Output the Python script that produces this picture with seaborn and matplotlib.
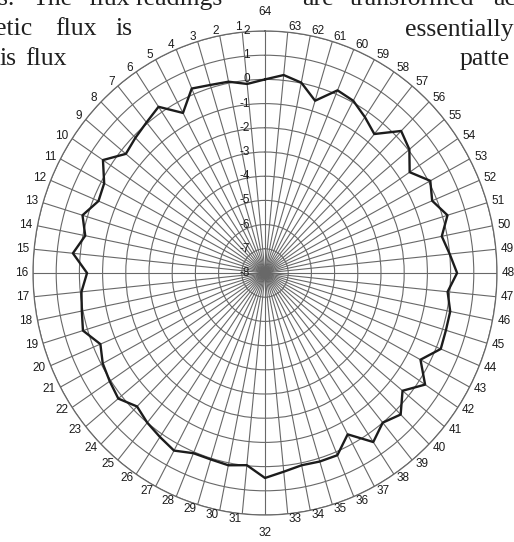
import numpy as np
import pandas as pd
import seaborn as sns
import matplotlib.pyplot as plt
from matplotlib.transforms import ScaledTranslation

# sensor index around the circle (0 is drawn as "64")
sensor = np.arange(64)
flux = [0.0, -0.15, 0.06, 0.12, 0.25, -0.5, 0.26, 0.05, -0.1, -0.24,
        0.4, -0.14, -0.23, 0.22, -0.1, 0.32, -0.33, -0.05, 0.05, 0.2,
        -0.32, -0.07, 0.05, 0.18, -0.2, 0.0, 0.15, 0.32, 0.06, 0.05,
        0.1, -0.02, 0.47, 0.25, 0.1, 0.14, 0.15, -0.44, 0.4, 0.0,
        0.27, -0.33, 0.3, -0.4, 0.2, 0.15, 0.14, -0.09, 0.28, 0.0,
        -0.23, 0.22, -0.2, 0.08, -0.5, 0.05, 0.3, -0.57, -0.25, 0.07,
        0.17, -0.56, 0.02, 0.22]
sensor_labels = ["64"] + [str(i) for i in range(1, 64)]
rings = [-8, -7, -6, -5, -4, -3, -2, -1, 0, 1, 2]
ring_labels = ["-8", "-7", "-6", "-5", "-4", "-3", "-2", "-1", "0", "1", "2"]

GRID = "#686868"
INK = "#1c1c1c"

sns.set_style("white")
plt.rcParams["font.family"] = ["Liberation Sans", "DejaVu Sans"]

theta = np.deg2rad(sensor * 360 / 64)
df = pd.DataFrame({"theta": np.append(theta, 2 * np.pi),
                   "flux": np.append(flux, flux[0])})

fig = plt.figure(figsize=(5.14, 5.42), dpi=100)
ax = fig.add_axes([0.0642, 0.0498, 0.9027, 0.893], projection="polar")
ax.set_theta_zero_location("N")
ax.set_theta_direction(1)

sns.lineplot(data=df, x="theta", y="flux", ax=ax, sort=False, estimator=None,
             color=INK, linewidth=1.7, zorder=5)

ax.set_aspect("auto")
ax.set_ylim(-8, 2)
ax.set_xticks(theta)
ax.set_xticklabels([])
ax.set_yticks(rings[1:])
ax.set_yticklabels([])
ax.set_xlabel("")
ax.set_ylabel("")
ax.grid(True, color=GRID, linewidth=0.8)
ax.spines["polar"].set_color(GRID)
ax.spines["polar"].set_linewidth(0.9)

# radial scale labels beside the top spoke
shift = ax.transData + ScaledTranslation(-0.15, 0, fig.dpi_scale_trans)
for r, lab in zip(rings, ring_labels):
    ax.text(0, r, lab, transform=shift, ha="right", va="center",
            fontsize=8.5, color=INK)

# sensor numbers around the outside
for k, lab in zip(sensor, sensor_labels):
    t = theta[k]
    ux, uy = -np.sin(t), np.cos(t)
    d = 0.05
    if k == 0:
        ha, va, d = "center", "bottom", 0.13
    elif k == 32:
        ha, va, d = "center", "top", 0.12
    elif k < 32:
        ha, va = "right", "center"
    else:
        ha, va = "left", "center"
    tr = ax.transData + ScaledTranslation(ux * d, uy * d, fig.dpi_scale_trans)
    ax.text(t, 2, lab, transform=tr, ha=ha, va=va, fontsize=8.5, color=INK)

# fragments of the surrounding page text
serif = dict(family=["Liberation Serif", "DejaVu Serif"], fontsize=18.5,
             color="#202020", va="baseline", ha="left")
H = 542.0
W = 514.0
words = [("s.", -2, 5), ("The", 33, 5), ("flux", 88, 5), ("readings", 135, 5),
         ("are", 302, 5), ("transformed", 350, 5), ("ac", 493, 5),
         ("etic", -5, 35), ("flux", 55, 35), ("is", 115, 35),
         ("essentially", 405, 36),
         ("is", -1, 65), ("flux", 25, 65), ("patte", 460, 65)]
for w, x, y in words:
    fig.text(x / W, 1 - y / H, w, **serif)

fig.savefig("out.png", dpi=100)
